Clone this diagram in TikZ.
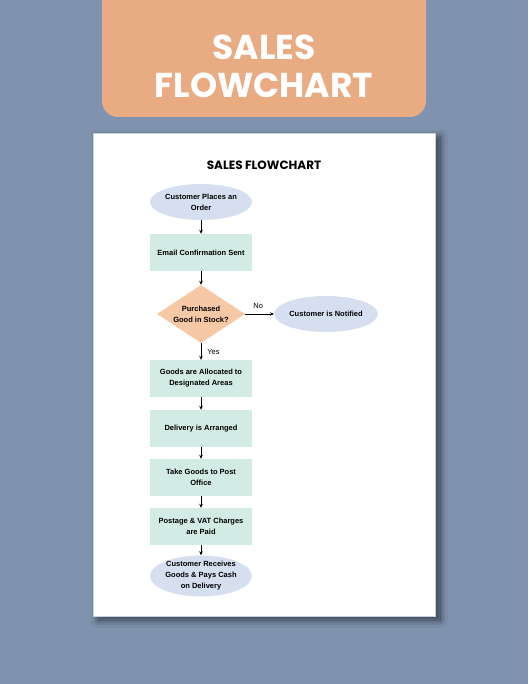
\documentclass[tikz,border=0pt]{standalone}
\usepackage{fontspec}
\setmainfont{Liberation Sans}
\newfontfamily\pop{Poppins}
\usetikzlibrary{shapes.geometric,arrows.meta,shadows.blur,fadings}
\definecolor{bgc}{HTML}{7F93AE}
\definecolor{bannerc}{HTML}{E8AB82}
\definecolor{ellc}{HTML}{D6DFF0}
\definecolor{rectc}{HTML}{D2EBE4}
\definecolor{diac}{HTML}{F7C8A5}
\definecolor{paperedge}{HTML}{C9D1DD}
\tikzset{
  base/.style={font=\fontsize{7.5}{11}\selectfont\bfseries, align=center, inner sep=0pt, text=black},
  stepbox/.style={base, rectangle, fill=rectc, minimum width=102pt, minimum height=37pt},
  oval/.style={base, ellipse, fill=ellc, minimum width=102pt, minimum height=36pt},
  decision/.style={base, diamond, fill=diac, minimum width=88pt, minimum height=58pt, aspect=1.5},
  link/.style={draw=black, line width=0.7pt, -{Stealth[length=4pt,width=3.6pt]}},
  lbl/.style={font=\fontsize{7.5}{9}\selectfont, text=black, inner sep=0pt}
}
\begin{document}
\begin{tikzpicture}[x=1pt,y=-1pt]
\useasboundingbox (0,0) rectangle (528,684);
\clip (0,0) rectangle (528,684);
\fill[bgc] (0,0) rectangle (528,684);
% banner
\fill[bannerc, rounded corners=16pt] (102,-30) rectangle (426,117);
\node[font=\pop\bfseries\fontsize{34.5}{38}\selectfont, text=white, align=center] (bannertext) at (264,66) {SALES\\FLOWCHART};
% paper
\fill[white, draw=paperedge, line width=0.6pt, blur shadow={shadow xshift=5pt, shadow yshift=-4pt, shadow blur radius=7pt, shadow blur steps=16, shadow opacity=60}] (93,133) rectangle (435,616);
\node[font=\pop\bfseries\fontsize{12}{14}\selectfont, text=black] (title) at (264,165.5) {SALES FLOWCHART};
% nodes
\node[oval] (order) at (201,202) {Customer Places an\\Order};
\node[stepbox] (email) at (201,252.5) {Email Confirmation Sent};
\node[decision] (stock) at (201,314) {Purchased\\Good in Stock?};
\node[oval] (notified) at (326,314) {Customer is Notified};
\node[stepbox] (alloc) at (201,378.5) {Goods are Allocated to\\Designated Areas};
\node[stepbox] (deliv) at (201,428.5) {Delivery is Arranged};
\node[stepbox] (post) at (201,477.5) {Take Goods to Post\\Office};
\node[stepbox] (vat) at (201,526.5) {Postage \& VAT Charges\\are Paid};
\node[oval, minimum height=38pt] (cash) at (201,576) {Customer Receives\\Goods \& Pays Cash\\on Delivery};
% connectors
\draw[link] (order) -- (email);
\draw[link] (email) -- (stock);
\draw[link] (stock) -- node[lbl, above=5pt, pos=0.45] (nolbl) {No} (notified);
\draw[link] (stock) -- node[lbl, right=6pt, pos=0.5] (yeslbl) {Yes} (alloc);
\draw[link] (alloc) -- (deliv);
\draw[link] (deliv) -- (post);
\draw[link] (post) -- (vat);
\draw[link] (vat) -- (cash);
\end{tikzpicture}
\end{document}
